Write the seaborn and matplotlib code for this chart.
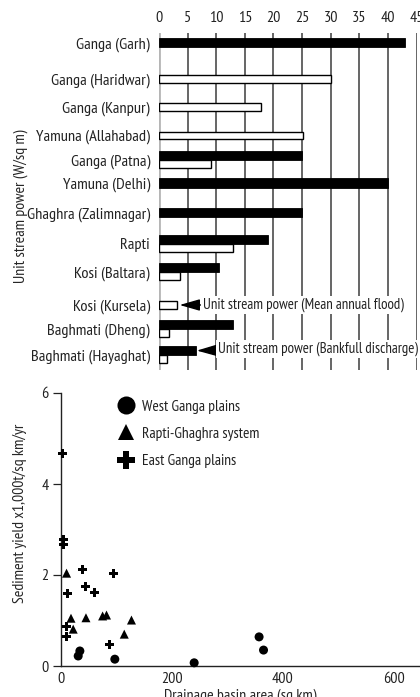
import matplotlib
matplotlib.use("Agg")
import matplotlib.pyplot as plt
from matplotlib import font_manager
from matplotlib.lines import Line2D
import numpy as np
import pandas as pd
import seaborn as sns

sns.set_theme(style="white")
_available = {f.name for f in font_manager.fontManager.ttflist}
_narrow = [n for n in ["PT Sans Narrow", "Roboto Condensed", "Archivo Narrow",
                       "Fira Sans Condensed", "Asap Condensed", "Encode Sans Condensed",
                       "Liberation Sans Narrow", "Arial Narrow"] if n in _available]
plt.rcParams["font.family"] = _narrow[:1] + ["DejaVu Sans"]
plt.rcParams["text.color"] = "#222222"
FS_CAT = 11.8     # station names
FS_NOTE = 10.75   # arrow notes
FS_TICK = 11.5    # numeric tick labels
FS_LAB = 11.4     # axis titles
FS_LEG = 11.2     # legend entries

# ---- unit stream power by station (W/sq m) ----
stations = ["Ganga (Garh)", "Ganga (Haridwar)", "Ganga (Kanpur)", "Yamuna (Allahabad)",
            "Ganga (Patna)", "Yamuna (Delhi)", "Ghaghra (Zalimnagar)", "Rapti",
            "Kosi (Baltara)", "Kosi (Kursela)", "Baghmati (Dheng)", "Baghmati (Hayaghat)"]
bankfull = [43.0, np.nan, np.nan, np.nan, 25.0, 40.0, 25.0, 19.1, 10.5, np.nan, 13.0, 6.4]
mean_flood = [np.nan, 30.0, 17.8, 25.2, 9.0, np.nan, np.nan, 13.0, 3.7, 3.1, 1.8, 1.35]
power_ticks = [0, 5, 10, 15, 20, 25, 30, 35, 40, 45]

# ---- sediment yield vs drainage area ----
west_area = [34, 31, 97, 240, 357, 365]
west_yield = [0.33, 0.22, 0.15, 0.07, 0.64, 0.35]
rapti_area = [10, 18, 45, 75, 82, 127, 22, 114]
rapti_yield = [2.04, 1.05, 1.06, 1.10, 1.12, 1.01, 0.81, 0.70]
east_area = [3, 4, 4, 38, 95, 44, 61, 11, 10, 10, 88]
east_yield = [4.68, 2.77, 2.66, 2.11, 2.04, 1.74, 1.61, 1.60, 0.86, 0.64, 0.48]
regions = ["West Ganga plains", "Rapti-Ghaghra system", "East Ganga plains"]

# layout: vertical row centres of the station rows (top panel units)
row_centre = [42.5, 79, 107, 135.5, 160, 183, 212.5, 244, 272, 305, 329, 355]

fig = plt.figure(figsize=(4.2, 6.97), dpi=100)
ax1 = fig.add_axes([159 / 420, 1 - 370 / 697, 257.6 / 420, 337 / 697])
ax2 = fig.add_axes([61 / 420, 1 - 666 / 697, 359 / 420, 273 / 697])

# ---------------- top panel ----------------
ax1.set_xlim(0, 45)
ax1.set_ylim(370, 33)
ax1.set_xticks(power_ticks)
ax1.set_xticklabels([str(t) for t in power_ticks], fontsize=FS_TICK)
ax1.tick_params(axis="x", top=True, bottom=False, labeltop=True, labelbottom=False,
                length=0, pad=5.5, colors="#222222")
ax1.set_yticks(row_centre)
ax1.set_yticklabels(stations, fontsize=FS_CAT)
ax1.tick_params(axis="y", length=0, pad=6.5, colors="#222222")
for s in ax1.spines.values():
    s.set_visible(False)
ax1.set_axisbelow(True)
ax1.grid(axis="x", color="#3c3c3c", lw=1.1)
ax1.grid(axis="y", visible=False)
ax1.get_xgridlines()[0].set_visible(False)
ax1.axvline(0, color="#b5b5b5", lw=2, zorder=0.5)

H_BLACK, H_WHITE = 8.8, 7.8
for c, b, w in zip(row_centre, bankfull, mean_flood):
    has_b, has_w = not np.isnan(b), not np.isnan(w)
    if has_b and has_w:
        ax1.barh(c - H_BLACK / 2, b, height=H_BLACK, color="black", edgecolor="black", lw=0.6, zorder=3)
        ax1.barh(c + H_WHITE / 2, w, height=H_WHITE, color="white", edgecolor="black", lw=1.0, zorder=3)
    elif has_b:
        ax1.barh(c, b, height=H_BLACK + 0.6, color="black", edgecolor="black", lw=0.6, zorder=3)
    elif has_w:
        ax1.barh(c, w, height=H_WHITE, color="white", edgecolor="black", lw=1.0, zorder=3)

arrow_kw = dict(arrowstyle="-|>,head_length=1.15,head_width=0.33", color="black",
                lw=1.0, shrinkA=0, shrinkB=0)
box_kw = dict(boxstyle="square,pad=0.12", fc="white", ec="none")
i_kur = stations.index("Kosi (Kursela)")
ax1.annotate("Unit stream power (Mean annual flood)",
             xy=(mean_flood[i_kur] + 0.5, row_centre[i_kur]), xytext=(7.6, row_centre[i_kur]),
             fontsize=FS_NOTE, va="center", ha="left", arrowprops=arrow_kw, bbox=box_kw, zorder=5)
i_hay = stations.index("Baghmati (Hayaghat)")
ax1.annotate("Unit stream power (Bankfull discharge)",
             xy=(bankfull[i_hay] + 0.2, row_centre[i_hay] - H_BLACK / 2),
             xytext=(10.3, row_centre[i_hay] - H_BLACK / 2 - 1.5),
             fontsize=FS_NOTE, va="center", ha="left", arrowprops=arrow_kw, bbox=box_kw, zorder=5)

ax1.set_ylabel("Unit stream power (W/sq m)", fontsize=FS_LAB)
ax1.yaxis.set_label_coords(-0.51, 0.485)

# ---------------- bottom panel ----------------
df = pd.DataFrame({
    "area": west_area + rapti_area + east_area,
    "sediment": west_yield + rapti_yield + east_yield,
    "region": [regions[0]] * len(west_area) + [regions[1]] * len(rapti_area)
              + [regions[2]] * len(east_area),
})
marker_map = {regions[0]: "o", regions[1]: "^", regions[2]: "P"}
sns.scatterplot(data=df, x="area", y="sediment", style="region", markers=marker_map,
                style_order=regions, color="black", s=42, linewidth=0, ax=ax2,
                legend=False, zorder=3, clip_on=False)

ax2.set_xlim(0, 647)
ax2.set_ylim(0, 6)
ax2.set_xticks([0, 200, 400, 600])
ax2.set_yticks([0, 2, 4, 6])
ax2.tick_params(axis="x", length=0, pad=4, labelsize=FS_TICK, colors="#222222")
ax2.tick_params(axis="y", left=True, length=6, width=0.9, pad=3, labelsize=FS_TICK,
                colors="#222222")
for side in ("top", "right"):
    ax2.spines[side].set_visible(False)
for side in ("left", "bottom"):
    ax2.spines[side].set_color("#222222")
    ax2.spines[side].set_linewidth(1.0)
ax2.set_xlabel("Drainage basin area (sq km)", fontsize=FS_LAB, labelpad=2)
ax2.set_ylabel("Sediment yield x1,000t/sq km/yr", fontsize=FS_LAB)
ax2.yaxis.set_label_coords(-0.095, 0.56)

handles = [Line2D([], [], ls="none", marker=marker_map[r], color="black",
                  markersize=ms, markeredgewidth=0)
           for r, ms in zip(regions, [13, 12, 13])]
ax2.legend(handles, regions, loc="upper left", bbox_to_anchor=(0.156, 0.975),
           frameon=False, fontsize=FS_LEG, handlelength=1.15, handletextpad=0.45,
           borderpad=0, borderaxespad=0, labelspacing=0.84)

fig.savefig("out.png", dpi=100)
